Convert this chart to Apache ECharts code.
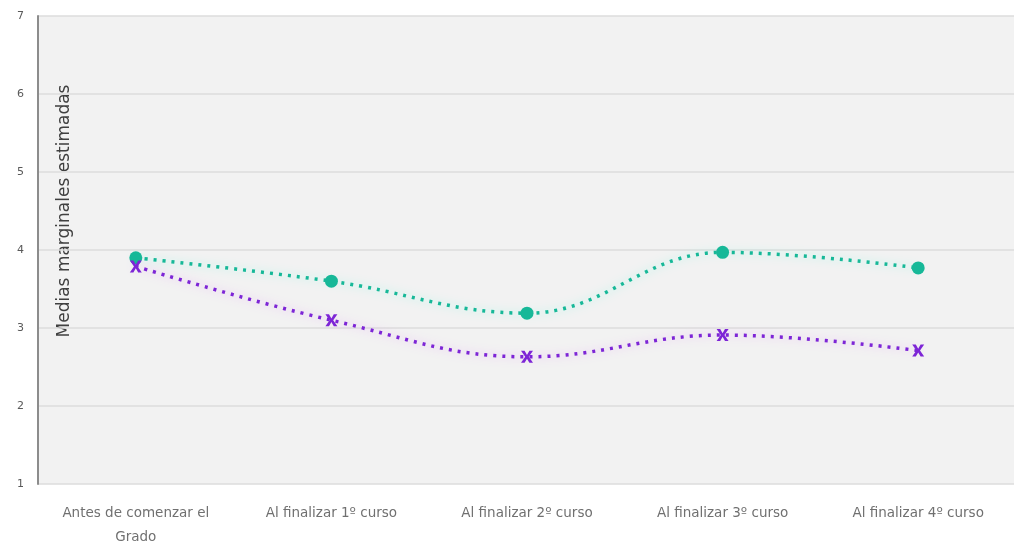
<!DOCTYPE html>
<html>
<head>
<meta charset="utf-8">
<script src="https://cdn.jsdelivr.net/npm/echarts@6/dist/echarts.min.js"></script>
<style>
  html, body { margin: 0; padding: 0; background: #fff; }
  #chart { width: 1014px; height: 544px; }
</style>
</head>
<body>
<div id="chart"></div>
<script>
// categorías del eje X
const categories = [
  'Antes de comenzar el\nGrado',
  'Al finalizar 1º curso',
  'Al finalizar 2º curso',
  'Al finalizar 3º curso',
  'Al finalizar 4º curso'
];
// medias
const serieVerde = [3.90, 3.60, 3.19, 3.97, 3.77];
const serieMorada = [3.79, 3.10, 2.63, 2.91, 2.71];
const yTicks = [1, 2, 3, 4, 5, 6, 7];

const teal = '#17b898';
const purple = '#7d25d6';
// forma de aspa para los marcadores morados
const crossPath = 'path://M0,0 L3,0 L5,3.5 L7,0 L10,0 L6.5,5 L10,10 L7,10 L5,6.5 L3,10 L0,10 L3.5,5 Z';

const chart = echarts.init(document.getElementById('chart'));
const option = {
  animation: false,
  textStyle: { fontFamily: 'DejaVu Sans' },
  grid: {
    left: 38,
    top: 16,
    width: 978,
    bottom: 60,
    outerBoundsMode: 'none',
    containLabel: false,
    show: true,
    backgroundColor: '#f2f2f2',
    borderWidth: 0
  },
  graphic: [{
    type: 'text',
    x: 65,
    y: 211,
    rotation: Math.PI / 2,
    style: {
      text: 'Medias marginales estimadas',
      fontSize: 17,
      fill: '#404040',
      fontFamily: 'DejaVu Sans',
      align: 'center',
      verticalAlign: 'middle'
    }
  }],
  xAxis: {
    type: 'category',
    data: categories,
    boundaryGap: true,
    axisLine: { show: false },
    axisTick: { show: false },
    axisLabel: {
      color: '#707070',
      fontSize: 13.5,
      margin: 17,
      lineHeight: 24,
      interval: 0
    }
  },
  yAxis: {
    type: 'value',
    min: yTicks[0],
    max: yTicks[yTicks.length - 1],
    interval: 1,
    axisLine: { show: true, lineStyle: { color: '#8c8c8c', width: 2 } },
    axisTick: { show: false },
    axisLabel: { color: '#595959', fontSize: 11, margin: 14 },
    splitLine: { lineStyle: { color: '#dcdcdc', width: 1.5 } }
  },
  series: [
    {
      name: 'Grupo 1',
      type: 'line',
      data: serieVerde,
      smooth: 0.4,
      symbol: 'circle',
      symbolSize: 13,
      itemStyle: { color: teal },
      lineStyle: {
        color: teal,
        width: 3.5,
        type: [3, 6],
        shadowColor: 'rgba(120,255,230,0.8)',
        shadowBlur: 8
      }
    },
    {
      name: 'Grupo 2',
      type: 'line',
      data: serieMorada,
      smooth: 0.4,
      symbol: crossPath,
      symbolSize: 12,
      itemStyle: { color: purple },
      lineStyle: {
        color: purple,
        width: 3.5,
        type: [3, 6],
        shadowColor: 'rgba(230,140,255,0.7)',
        shadowBlur: 8
      }
    }
  ]
};
chart.setOption(option);
</script>
</body>
</html>
